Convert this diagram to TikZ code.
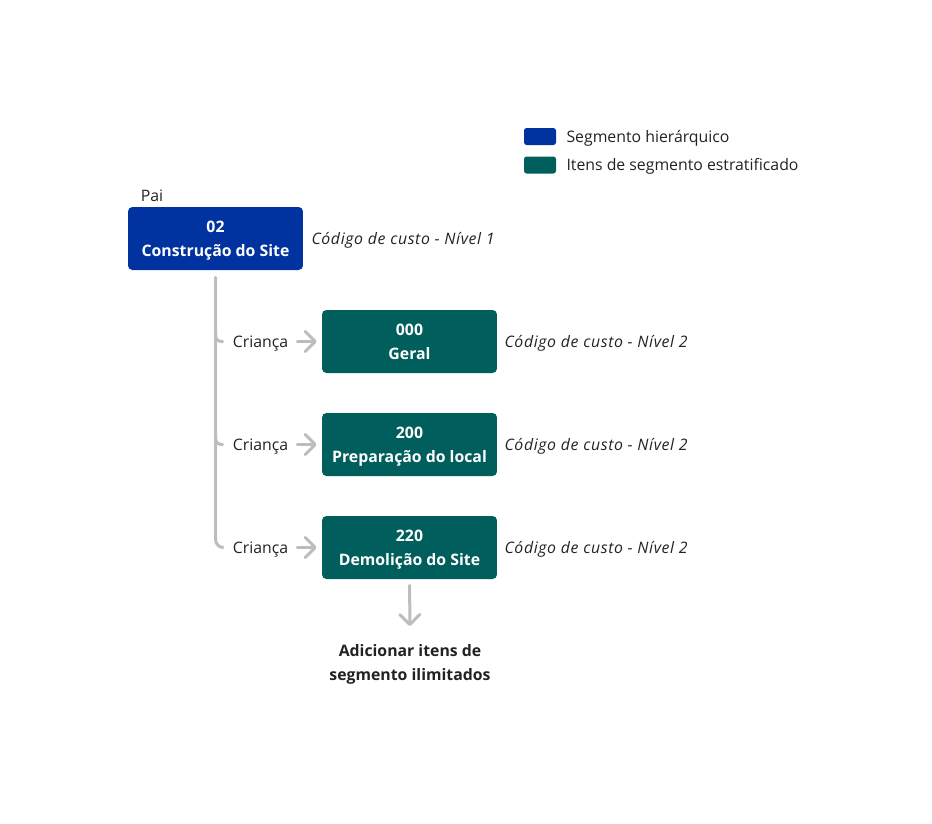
\documentclass[tikz,border=0pt]{standalone}
\usepackage{fontspec}
\setmainfont{Open Sans}
\newfontfamily\lvlfont[LetterSpace=4]{Open Sans}
\usetikzlibrary{arrows.meta,positioning}
\definecolor{hierblue}{HTML}{0033A0}
\definecolor{stratgreen}{HTML}{005E5C}
\definecolor{linegray}{HTML}{BDBDBD}
\definecolor{textdark}{HTML}{222222}

\begin{document}
\begin{tikzpicture}[x=0.02cm, y=-0.02cm,
    font=\fontsize{9}{11}\selectfont, text=textdark,
    every node/.append style={text height=6.5pt, text depth=0pt},
    twolines/.style={align=center, text height=20.2pt, font=\fontsize{9}{13.7}\selectfont\bfseries},
    segbox/.style={twolines, rounded corners=2.5pt, minimum width=3.5cm, minimum height=1.26cm, text=white},
    swatch/.style={rounded corners=1.5pt, minimum width=0.64cm, minimum height=0.34cm, inner sep=0pt},
    lvl/.style={font=\fontsize{9}{11}\selectfont\lvlfont\itshape},
    trunk/.style={draw=linegray, line width=0.06cm, line cap=round},
    chev/.style={trunk, -{Straight Barb[length=0.2cm, width=0.4cm, line cap=round, line join=round]}}]
    \useasboundingbox (0,0) rectangle (932,823);

    \node[swatch, fill=hierblue] (lb) at (540, 136.5) {};
    \node[swatch, fill=stratgreen] (lg) at (540, 165) {};
    \node[anchor=west] (lbt) at ([xshift=0.08cm]lb.east) {Segmento hierárquico};
    \node[anchor=west] (lgt) at ([xshift=0.08cm]lg.east) {Itens de segmento estratificado};

    \node[segbox, fill=hierblue] (p) at (215.5, 238.5) {02\\Construção do Site};
    \node (pai) at (152, 196) {Pai};
    \node[lvl, right=0.04cm of p] (pl) {Código de custo - Nível 1};

    \node[segbox, fill=stratgreen] (g0) at (409.5, 341.5) {000\\Geral};
    \node[segbox, fill=stratgreen] (g1) at (409.5, 444.5) {200\\Preparação do local};
    \node[segbox, fill=stratgreen] (g2) at (409.5, 547.5) {220\\Demolição do Site};

    \foreach \i in {0,1,2} {
        \node[lvl, right=0.02cm of g\i] (gl\i) {Código de custo - Nível 2};
        \node (c\i) at (260.5, 341.5+103*\i) {Criança};
        \draw[chev, shorten <=0.06cm, shorten >=0.1cm] (c\i) -- (g\i);
    }

    \draw[trunk, rounded corners=0.16cm, shorten <=0.14cm, shorten >=0.08cm] (p.south) |- (c2.west);
    \foreach \i in {0,1}
        \draw[trunk, rounded corners=0.12cm, shorten >=0.08cm] (p.south |- c\i.west) ++(0,-10) |- (c\i.west);

    \node[twolines] (more) at (410, 663) {Adicionar itens de\\segmento ilimitados};
    \draw[chev, shorten <=0.12cm, shorten >=0.26cm] (g2) -- (more);
\end{tikzpicture}
\end{document}
